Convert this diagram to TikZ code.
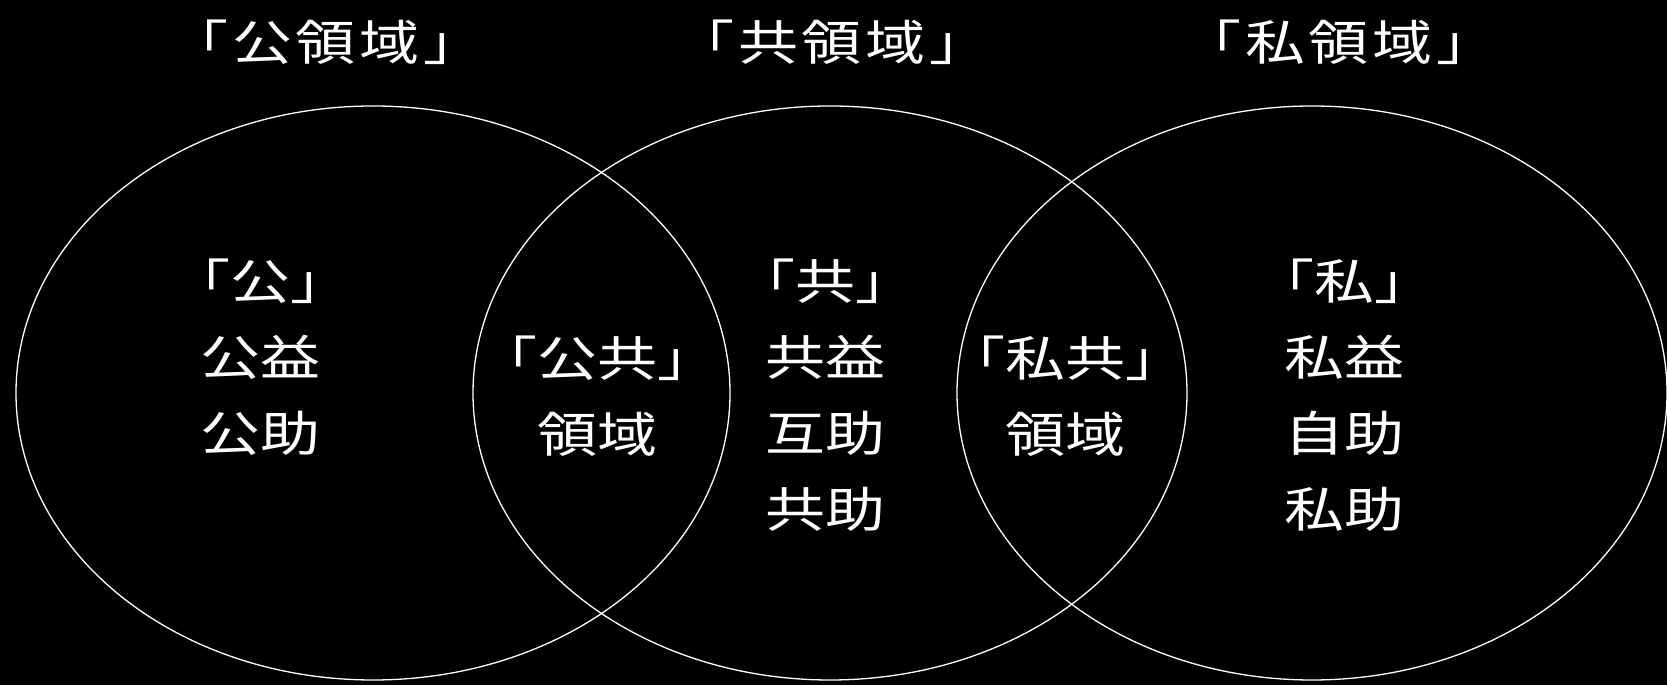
\documentclass[tikz,border=0pt]{standalone}
\usepackage{fontspec}
\newfontfamily\jpfont[FakeStretch=1.25]{Noto Sans CJK JP}
\newfontfamily\jptitle[FakeStretch=1.25,LetterSpace=8]{Noto Sans CJK JP}

\begin{document}
\begin{tikzpicture}
  [x=1pt,y=1pt,every node/.style={text=white,inner sep=0pt,align=center,anchor=base,
   font=\jpfont\fontsize{48}{76}\selectfont},
   areatitle/.style={font=\jptitle\fontsize{48}{76}\selectfont}]
  \fill[black] (0,0) rectangle (1667,685);
  \useasboundingbox (0,0) rectangle (1667,685);

  \foreach \cx/\rx in {373/357,830/357,1312/355}
    \draw[white,line width=1.3pt] (\cx,292) ellipse [x radius=\rx, y radius=287];

  \node[areatitle] (tpub) at (326,624) {「公領域」};
  \node[areatitle] (tcom) at (832,624) {「共領域」};
  \node[areatitle] (tpri) at (1339,624) {「私領域」};

  % base anchor sits on the last line
  \node (pub)    at (260,233)  {「公」\\公益\\公助};
  \node (pubcom) at (597,232)  {「公共」\\領域};
  \node (com)    at (825,157)  {「共」\\共益\\互助\\共助};
  \node (pricom) at (1065,232) {「私共」\\領域};
  \node (pri)    at (1344,157) {「私」\\私益\\自助\\私助};
\end{tikzpicture}
\end{document}
